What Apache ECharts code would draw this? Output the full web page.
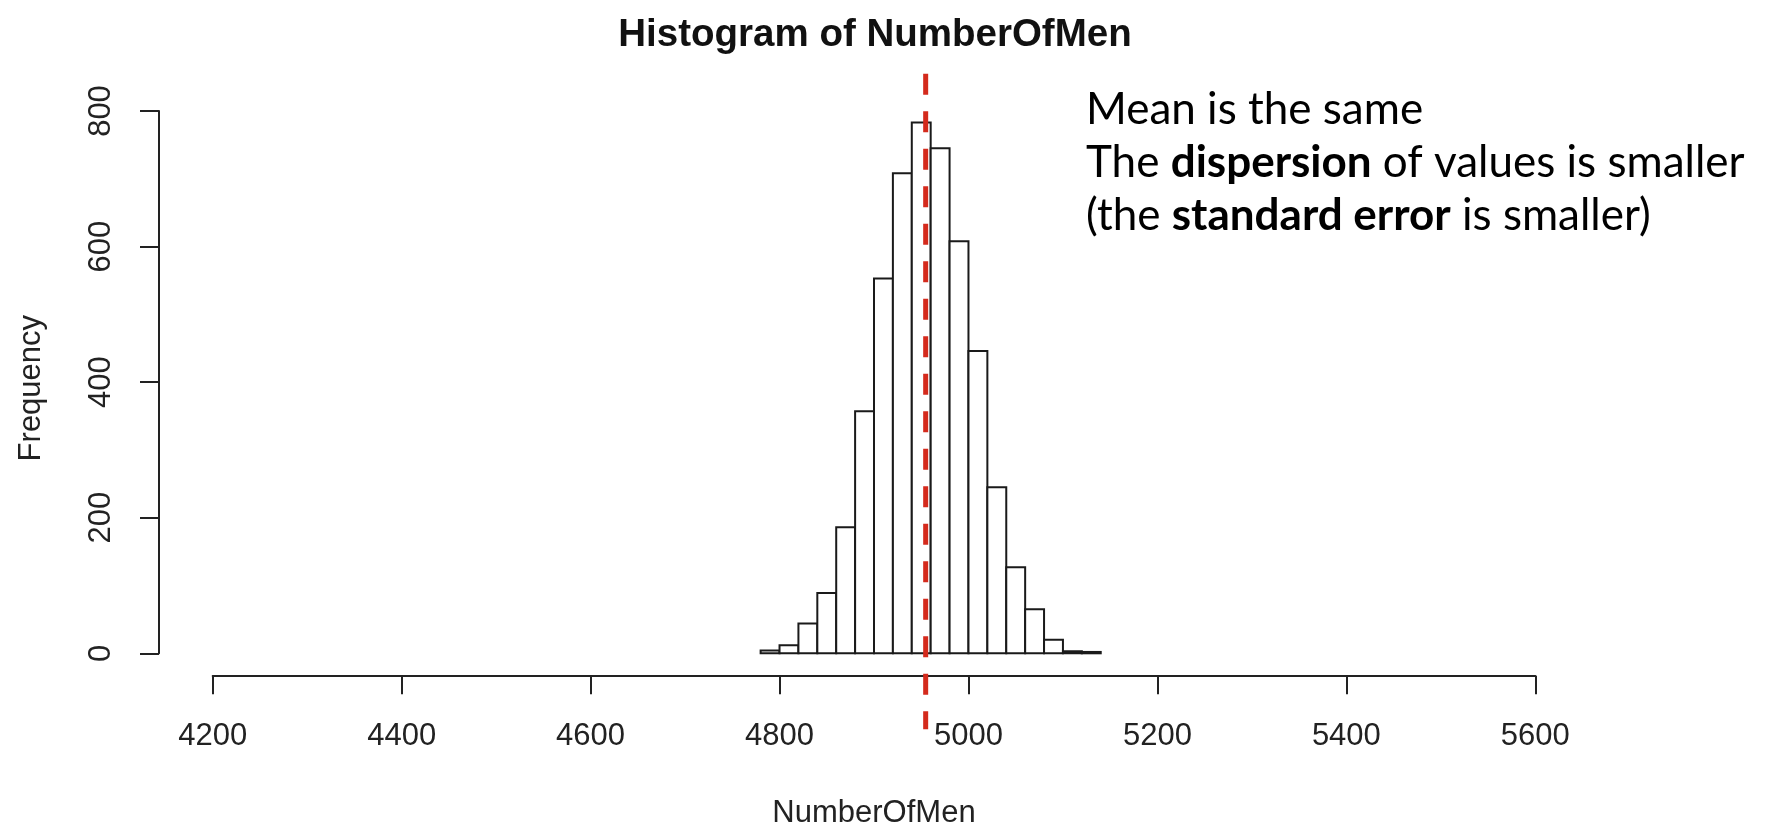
<!DOCTYPE html>
<html>
<head>
<meta charset="utf-8">
<script src="https://cdn.jsdelivr.net/npm/echarts@6/dist/echarts.min.js"></script>
<style>
html,body{margin:0;padding:0;background:#fff;}
#chart{width:1771px;height:827px;}
</style>
</head>
<body>
<div id="chart"></div>
<script>
// ---- data ----
const binEdges = [4780, 4800, 4820, 4840, 4860, 4880, 4900, 4920, 4940, 4960, 4980, 5000, 5020, 5040, 5060, 5080, 5100, 5120, 5140];
const counts   = [4, 12, 44, 89, 186, 357, 553, 708, 783, 745, 608, 446, 245, 127, 65, 20, 3, 2];
const meanValue = 4954.7;
const meanLineRange = [855, -112];
const xTicks = [4200, 4400, 4600, 4800, 5000, 5200, 5400, 5600];
const yTicks = [0, 200, 400, 600, 800];
const titleText = 'Histogram of NumberOfMen';
const xName = 'NumberOfMen';
const yName = 'Frequency';

const histData = counts.map((c, i) => [binEdges[i], binEdges[i + 1], c]);
const meanLine = meanLineRange.map(v => [meanValue, v]);

const chart = echarts.init(document.getElementById('chart'), null, {renderer: 'canvas'});
const axisColor = '#222';
const baseFont = 'Liberation Sans, Arial, sans-serif';
const noteSize = 44;
const noteLH = 53;

chart.setOption({
  animation: false,
  backgroundColor: '#fff',
  title: [
    {
      text: titleText,
      left: 870,
      textAlign: 'center',
      top: 11,
      textStyle: {fontFamily: baseFont, fontSize: 38.5, fontWeight: 'bold', color: '#111'}
    },
    {
      text: '{n|Mean is the same}\n{n|The }{b|dispersion}{n| of values is smaller}\n{n|(the }{b|standard error}{n| is smaller)}',
      left: 1081,
      top: 78,
      textStyle: {
        fontFamily: 'Lato', fontSize: noteSize, lineHeight: noteLH, fontWeight: 'normal', color: '#000',
        rich: {
          n: {fontFamily: 'Lato', fontSize: noteSize, lineHeight: noteLH, fontWeight: 'normal', color: '#000'},
          b: {fontFamily: 'Lato', fontSize: noteSize, lineHeight: noteLH, fontWeight: 'bold', color: '#000'}
        }
      }
    }
  ],
  grid: {left: 212.7, top: 111, right: 235.7, bottom: 173.7, containLabel: false, outerBoundsMode: 'none'},
  xAxis: {
    type: 'value',
    min: xTicks[0], max: xTicks[xTicks.length - 1], interval: 200,
    offset: 22.4,
    name: xName, nameLocation: 'middle', nameGap: 122,
    nameTextStyle: {fontFamily: baseFont, fontSize: 31, color: '#222'},
    axisLine: {show: true, onZero: false, lineStyle: {color: axisColor, width: 2}},
    axisTick: {show: true, length: 18.5, lineStyle: {color: axisColor, width: 2}},
    axisLabel: {fontFamily: baseFont, fontSize: 31, color: '#222', margin: 45, showMinLabel: true, showMaxLabel: true,
                formatter: v => String(v)},
    splitLine: {show: false}
  },
  yAxis: {
    type: 'value',
    min: yTicks[0], max: yTicks[yTicks.length - 1], interval: 200,
    offset: 53.7,
    name: yName, nameLocation: 'middle', nameGap: 112, nameRotate: 90,
    nameTextStyle: {fontFamily: baseFont, fontSize: 31, color: '#222', padding: [0, 12, 0, 0]},
    axisLine: {show: true, onZero: false, lineStyle: {color: axisColor, width: 2}},
    axisTick: {show: true, length: 19, lineStyle: {color: axisColor, width: 2}},
    axisLabel: {fontFamily: baseFont, fontSize: 31, color: '#222', rotate: 90, margin: 42, showMinLabel: true, showMaxLabel: true,
                formatter: v => String(v)},
    splitLine: {show: false}
  },
  series: [
    {
      type: 'custom',
      data: histData,
      clip: false,
      renderItem: function (params, api) {
        const p0 = api.coord([api.value(0), api.value(2)]);
        const p1 = api.coord([api.value(1), 0]);
        return {
          type: 'rect',
          shape: {x: p0[0], y: p0[1], width: p1[0] - p0[0], height: p1[1] - p0[1]},
          style: {fill: '#fff', stroke: '#1a1a1a', lineWidth: 2}
        };
      },
      z: 2
    },
    {
      type: 'line',
      data: meanLine,
      clip: false,
      symbol: 'none',
      lineStyle: {color: '#d42a1c', width: 5, type: [21, 16.5]},
      z: 5
    }
  ]
});
</script>
</body>
</html>
